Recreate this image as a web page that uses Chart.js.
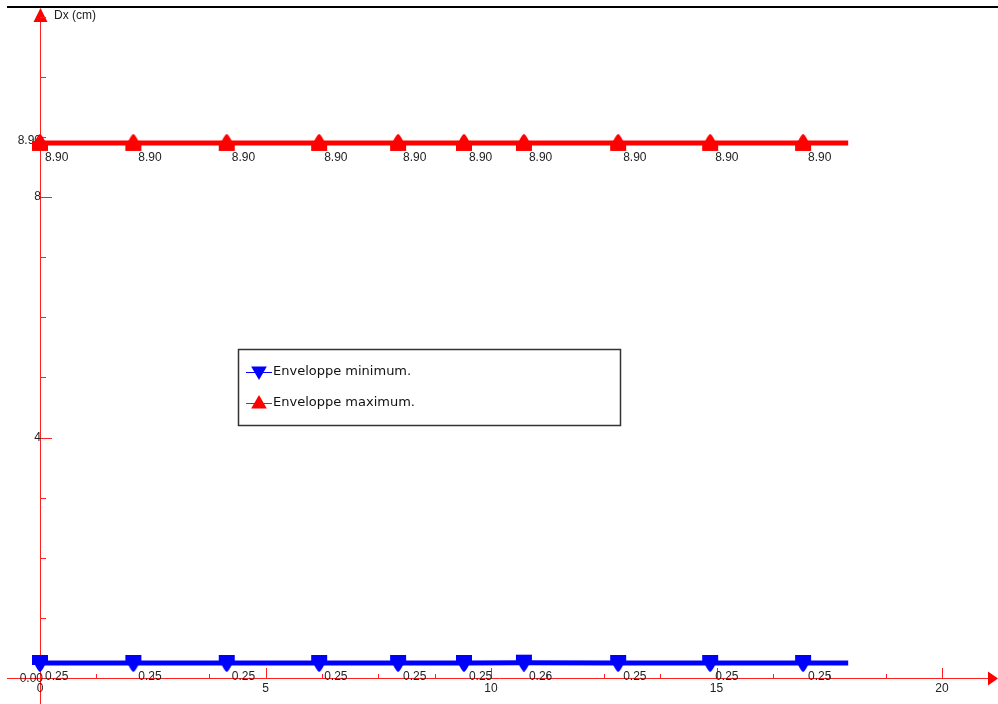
<!DOCTYPE html>
<html>
<head>
<meta charset="utf-8">
<script src="https://cdn.jsdelivr.net/npm/chart.js@4"></script>
<style>
  body { margin: 0; background: #fff; }
  canvas { display: block; }
</style>
</head>
<body>
<canvas id="envChart" width="998" height="704"></canvas>
<script>
// positions along the beam (m) and envelope values Dx (cm)
const positions = [0, 2.07, 4.14, 6.19, 7.94, 9.40, 10.73, 12.82, 14.86, 16.92, 17.92];
const envMin = [0.25, 0.25, 0.25, 0.25, 0.25, 0.25, 0.255, 0.25, 0.25, 0.25, 0.25];
const envMax = [8.90, 8.90, 8.90, 8.90, 8.90, 8.90, 8.90, 8.90, 8.90, 8.90, 8.90];
const markerCount = 10; // last point just closes the line, no marker

const xTicks = [0, 5, 10, 15, 20];
const xMinorStep = 1.25;
const yTicks = [4, 8];
const yMinorStep = 1;
const yExtraTicks = [8.90];

const seriesNames = ['Enveloppe minimum.', 'Enveloppe maximum.'];

function toPoints(vals) {
    return positions.map(function(x, i) { return { x: x, y: vals[i] }; });
}

const AXIS_RED = '#ff2020';
const LABEL_FONT = '12px "Liberation Sans", Arial, sans-serif';

// "house" shaped marker: small triangle on top of a wide block
function makeMarker(color, flip) {
    const c = document.createElement('canvas');
    c.width = 18;
    c.height = 18;
    const g = c.getContext('2d');
    if (flip) {
        g.translate(0, 18);
        g.scale(1, -1);
    }
    g.fillStyle = color;
    g.beginPath();
    g.moveTo(9, 0);
    g.quadraticCurveTo(11, 1, 14, 7);
    g.lineTo(17, 7);
    g.lineTo(17, 17);
    g.lineTo(1, 17);
    g.lineTo(1, 7);
    g.lineTo(4, 7);
    g.quadraticCurveTo(7, 1, 9, 0);
    g.closePath();
    g.fill();
    return c;
}

function drawTri(ctx, x, y, r, down, color) {
    ctx.save();
    ctx.fillStyle = color;
    ctx.beginPath();
    const s = down ? -1 : 1;
    ctx.moveTo(x, y - s * r);
    ctx.lineTo(x + r * 0.87, y + s * r * 0.5);
    ctx.lineTo(x - r * 0.87, y + s * r * 0.5);
    ctx.closePath();
    ctx.fill();
    ctx.restore();
}

const axesPlugin = {
    id: 'axesPlugin',
    beforeDatasetsDraw: function(chart) {
        const ctx = chart.ctx;
        const xs = chart.scales.x, ys = chart.scales.y;
        const x0 = Math.round(xs.getPixelForValue(0)), y0 = Math.round(ys.getPixelForValue(0));
        const W = chart.width, H = chart.height;
        ctx.save();

        // top black frame line
        ctx.strokeStyle = '#000';
        ctx.lineWidth = 2;
        ctx.beginPath();
        ctx.moveTo(7, 7);
        ctx.lineTo(W, 7);
        ctx.stroke();

        // axes
        ctx.strokeStyle = AXIS_RED;
        ctx.lineWidth = 1;
        ctx.beginPath();
        ctx.moveTo(7, y0 + 0.5);
        ctx.lineTo(W - 6, y0 + 0.5);
        ctx.moveTo(x0 + 0.5, 18);
        ctx.lineTo(x0 + 0.5, H);
        ctx.stroke();
        // arrow heads
        ctx.fillStyle = '#ff0000';
        ctx.beginPath();
        ctx.moveTo(x0 + 0.5, 8);
        ctx.lineTo(x0 + 7.5, 22);
        ctx.lineTo(x0 - 6.5, 22);
        ctx.closePath();
        ctx.fill();
        ctx.beginPath();
        ctx.moveTo(W, y0 + 0.5);
        ctx.lineTo(W - 10, y0 - 6.5);
        ctx.lineTo(W - 10, y0 + 7.5);
        ctx.closePath();
        ctx.fill();

        // x ticks (drawn upward)
        ctx.beginPath();
        for (let v = xMinorStep; v < xs.max; v += xMinorStep) {
            const px = Math.round(xs.getPixelForValue(v)) + 0.5;
            const major = xTicks.indexOf(v) >= 0;
            ctx.moveTo(px, y0);
            ctx.lineTo(px, y0 - (major ? 10 : 4));
        }
        // y ticks (drawn rightward)
        for (let v = yMinorStep; v < ys.max; v += yMinorStep) {
            const py = Math.round(ys.getPixelForValue(v)) + 0.5;
            const major = yTicks.indexOf(v) >= 0;
            ctx.moveTo(x0, py);
            ctx.lineTo(x0 + (major ? 12 : 6), py);
        }
        yExtraTicks.forEach(function(v) {
            const py = Math.round(ys.getPixelForValue(v)) + 0.5;
            ctx.moveTo(x0, py);
            ctx.lineTo(x0 + 12, py);
        });
        ctx.stroke();

        // tick labels
        ctx.fillStyle = '#222';
        ctx.font = LABEL_FONT;
        ctx.textAlign = 'center';
        ctx.textBaseline = 'middle';
        xTicks.forEach(function(v) {
            ctx.fillText(String(v), xs.getPixelForValue(v), y0 + 11);
        });
        ctx.textAlign = 'right';
        yTicks.forEach(function(v) {
            ctx.fillText(String(v), x0 + 1, ys.getPixelForValue(v));
        });
        yExtraTicks.forEach(function(v) {
            ctx.fillText(v.toFixed(2), x0 + 1, ys.getPixelForValue(v) - 2);
        });
        ctx.fillText('0.00', x0 + 3, y0 + 1);

        // axis title
        ctx.textAlign = 'left';
        ctx.fillText('Dx (cm)', x0 + 14, 16);
        ctx.restore();
    },
    afterDatasetsDraw: function(chart) {
        const ctx = chart.ctx;
        ctx.save();
        ctx.fillStyle = '#222';
        ctx.font = LABEL_FONT;
        ctx.textAlign = 'left';
        ctx.textBaseline = 'middle';
        chart.data.datasets.forEach(function(ds, di) {
            const meta = chart.getDatasetMeta(di);
            meta.data.forEach(function(pt, i) {
                if (i >= markerCount) return;
                ctx.fillText(ds.data[i].y.toFixed(2), pt.x + 5, pt.y + (di === 0 ? 14 : 15));
            });
        });

        // legend box
        const lx = 238, ly = 349, lw = 382, lh = 76;
        ctx.fillStyle = '#fff';
        ctx.fillRect(lx, ly, lw, lh);
        ctx.strokeStyle = '#333';
        ctx.lineWidth = 1.5;
        ctx.strokeRect(lx + 0.5, ly + 0.5, lw, lh);
        const colors = ['#0000ff', '#ff0000'];
        seriesNames.forEach(function(name, i) {
            const cy = ly + 23 + i * 31;
            ctx.strokeStyle = colors[i];
            ctx.lineWidth = 1;
            ctx.beginPath();
            ctx.moveTo(lx + 8, cy + 0.5);
            ctx.lineTo(lx + 34, cy + 0.5);
            ctx.stroke();
            drawTri(ctx, lx + 21, cy + (i === 0 ? -1 : 1), 9, i === 0, colors[i]);
            ctx.fillStyle = '#111';
            ctx.font = '13px "DejaVu Sans", Verdana, sans-serif';
            ctx.fillText(name, lx + 35, cy);
        });
        ctx.restore();
    }
};

const pxPerX = 45.1, pxPerY = 60.125;
new Chart(document.getElementById('envChart').getContext('2d'), {
    type: 'scatter',
    data: {
        datasets: [{
            label: seriesNames[0],
            data: toPoints(envMin),
            showLine: true,
            borderColor: '#0000ff',
            backgroundColor: '#0000ff',
            borderWidth: 5,
            pointStyle: makeMarker('#0000ff', true),
            pointRadius: function(c) { return c.dataIndex < markerCount ? 9 : 0; },
            pointHoverRadius: function(c) { return c.dataIndex < markerCount ? 9 : 0; },
            pointBorderWidth: 0
        }, {
            label: seriesNames[1],
            data: toPoints(envMax),
            showLine: true,
            borderColor: '#ff0000',
            backgroundColor: '#ff0000',
            borderWidth: 5,
            pointStyle: makeMarker('#ff0000', false),
            pointRadius: function(c) { return c.dataIndex < markerCount ? 9 : 0; },
            pointHoverRadius: function(c) { return c.dataIndex < markerCount ? 9 : 0; },
            pointBorderWidth: 0
        }]
    },
    options: {
        responsive: false,
        animation: false,
        events: [],
        layout: { padding: 0, autoPadding: false },
        plugins: { legend: { display: false }, tooltip: { enabled: false } },
        scales: {
            x: { type: 'linear', display: false, min: -40 / pxPerX, max: (998 - 40) / pxPerX },
            y: { type: 'linear', display: false, min: -26 / pxPerY, max: 678 / pxPerY }
        }
    },
    plugins: [axesPlugin]
});
</script>
</body>
</html>
